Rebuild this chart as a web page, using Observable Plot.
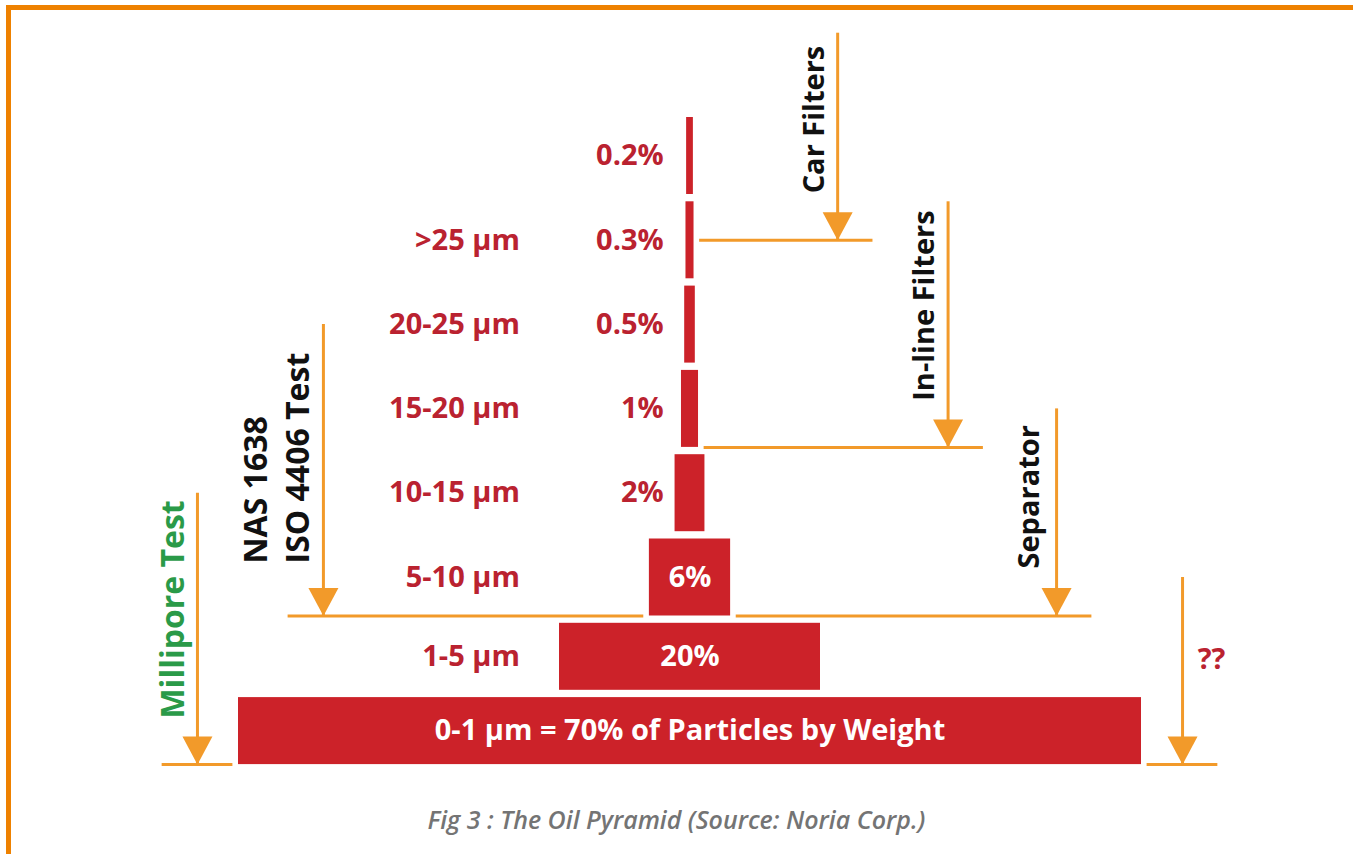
<!DOCTYPE html>
<html>
<head>
<meta charset="utf-8">
<script src="https://cdn.jsdelivr.net/npm/d3@7"></script>
<script src="https://cdn.jsdelivr.net/npm/@observablehq/plot@0.6"></script>
<style>
  html, body { margin: 0; background: #fff; }
  #page { position: relative; width: 1353px; height: 854px; overflow: hidden; }
  #chart svg { display: block; }
  #caption {
    margin-top: 12px;
    text-align: center;
    font: italic 600 25px "Open Sans", sans-serif;
    color: #747474;
  }
  .frame { position: absolute; background: #EE8100; }
  #frame-top { left: 6px; top: 5px; right: 0; height: 5px; }
  #frame-left { left: 6px; top: 5px; bottom: 0; width: 5px; }
</style>
</head>
<body>
<div id="page">
  <div id="chart"></div>
  <div id="caption">Fig 3 : The Oil Pyramid (Source: Noria Corp.)</div>
  <div class="frame" id="frame-top"></div>
  <div class="frame" id="frame-left"></div>
</div>
<script>
// Particle size classes, top of the pyramid to its base
const sizes = ["", ">25 µm", "20-25 µm", "15-20 µm", "10-15 µm", "5-10 µm", "1-5 µm", "0-1 µm"];
// Share of particles by weight for each class (%)
const shares = [0.2, 0.3, 0.5, 1, 2, 6, 20, 70];
// What each removal method / test method catches
const methods = ["Car Filters", "In-line Filters", "Separator", "NAS 1638\nISO 4406 Test", "Millipore Test", "??"];

// ---- colours
const RED = "#CC2229";
const RED_TEXT = "#BA2230";
const ORANGE = "#F29A2A";
const INK = "#111111";
const GREEN = "#2A9A48";

// ---- geometry
const W = 1353, H = 790;
const ROW_PX = 84.3, FIRST_TOP_PX = 117;   // y: one unit = one row pitch
const CENTER_PX = 689.5, PCT_PX = 12.84;   // x: one unit = one percent, centred
const TALL = 77 / ROW_PX, SHORT = 67 / ROW_PX, GAP = 1 - TALL;
const compactRows = new Set(["1-5 µm", "0-1 µm"]);
const baseShare = d3.max(shares);

// stack the rows from the top down
let cursor = 0;
const rows = shares.map((share, i) => {
  const h = compactRows.has(sizes[i]) ? SHORT : TALL;
  const r = {i, size: sizes[i], share, top: cursor, bottom: cursor + h, mid: cursor + h / 2};
  cursor += h + GAP;
  return r;
});
rows.forEach(r => {
  r.inside = r.share >= 5;
  r.label = r.share === baseShare
    ? `${r.size} = ${r.share}% of Particles by Weight`
    : `${r.share}%`;
});

// arrows: position (in % from the centre), where they start, which row they stop at
const guideLayout = [
  {side: 1,  pos: 11.5,  from: -1,          row: 1, edge: "mid",    textStart: 0.9,  dx: -26, size: 29, color: INK},
  {side: 1,  pos: 20.1,  from: rows[1].top, row: 3, edge: "bottom", textStart: 3.36, dx: -26, size: 29, color: INK},
  {side: 1,  pos: 28.55, from: rows[3].mid, row: 5, edge: "bottom", textStart: 5.35, dx: -30, size: 29, color: INK},
  {side: -1, pos: 28.55, from: rows[2].mid, row: 5, edge: "bottom", textStart: 5.29, dx: -49, size: 32, color: INK},
  {side: -1, pos: 38.36, from: rows[4].mid, row: 7, edge: "bottom", textStart: 7.13, dx: -27, size: 32, color: GREEN},
  {side: 1,  pos: 38.36, from: rows[5].mid, row: 7, edge: "bottom", textStart: rows[6].mid, dx: 29, size: 29, color: RED_TEXT, upright: true}
];
const guides = guideLayout.map((g, k) => {
  const r = rows[g.row];
  const y = r[g.edge];
  return {
    ...g,
    name: methods[k],
    x: g.side * g.pos,
    y,
    lx1: g.side * (r.share / 2 + 0.6),
    lx2: g.side * (g.pos + 2.75)
  };
});

// downward filled arrowhead whose tip sits on the anchor point
const arrowHead = {
  draw(ctx) {
    ctx.moveTo(0, 0);
    ctx.lineTo(-15, -28);
    ctx.lineTo(15, -28);
    ctx.closePath();
  }
};

const font = {fontFamily: "'Open Sans', sans-serif", fontWeight: 700, fontSize: 29};

const chart = Plot.plot({
  width: W,
  height: H,
  margin: 0,
  x: {domain: [-CENTER_PX / PCT_PX, (W - CENTER_PX) / PCT_PX], axis: null},
  y: {domain: [-FIRST_TOP_PX / ROW_PX, (H - FIRST_TOP_PX) / ROW_PX], reverse: true, axis: null},
  style: {background: "transparent", overflow: "visible"},
  marks: [
    // pyramid bars
    Plot.rect(rows, {
      x1: d => -d.share / 2, x2: d => d.share / 2,
      y1: "top", y2: "bottom",
      insetLeft: -2.1, insetRight: -2.1,
      fill: RED
    }),
    // size class labels
    Plot.text(rows.filter(d => d.size && d.share !== baseShare), {
      x: -13.25, y: "mid", text: "size", textAnchor: "end", fill: RED_TEXT, ...font
    }),
    // share labels beside the thin bars
    Plot.text(rows.filter(d => !d.inside), {
      x: -2.05, y: "mid", text: "label", textAnchor: "end", fill: RED_TEXT, ...font
    }),
    // share labels inside the wide bars
    Plot.text(rows.filter(d => d.inside), {
      x: 0, y: "mid", text: "label", textAnchor: "middle", fill: "white", ...font
    }),
    // cut-off lines
    Plot.ruleY(guides, {y: "y", x1: "lx1", x2: "lx2", stroke: ORANGE, strokeWidth: 3}),
    // arrow shafts
    Plot.ruleX(guides, {x: "x", y1: "from", y2: "y", stroke: ORANGE, strokeWidth: 3}),
    // arrow heads
    Plot.dot(guides, {x: "x", y: "y", symbol: arrowHead, fill: ORANGE, stroke: null}),
    // method names, written up the arrows
    ...guides.map(g => Plot.text([g], {
      x: "x", y: "textStart", text: "name",
      dx: g.dx,
      rotate: g.upright ? 0 : -90,
      textAnchor: g.upright ? "middle" : "start",
      lineHeight: 1.31,
      fill: g.color,
      ...font,
      fontSize: g.size
    }))
  ]
});

document.getElementById("chart").append(chart);
</script>
</body>
</html>
